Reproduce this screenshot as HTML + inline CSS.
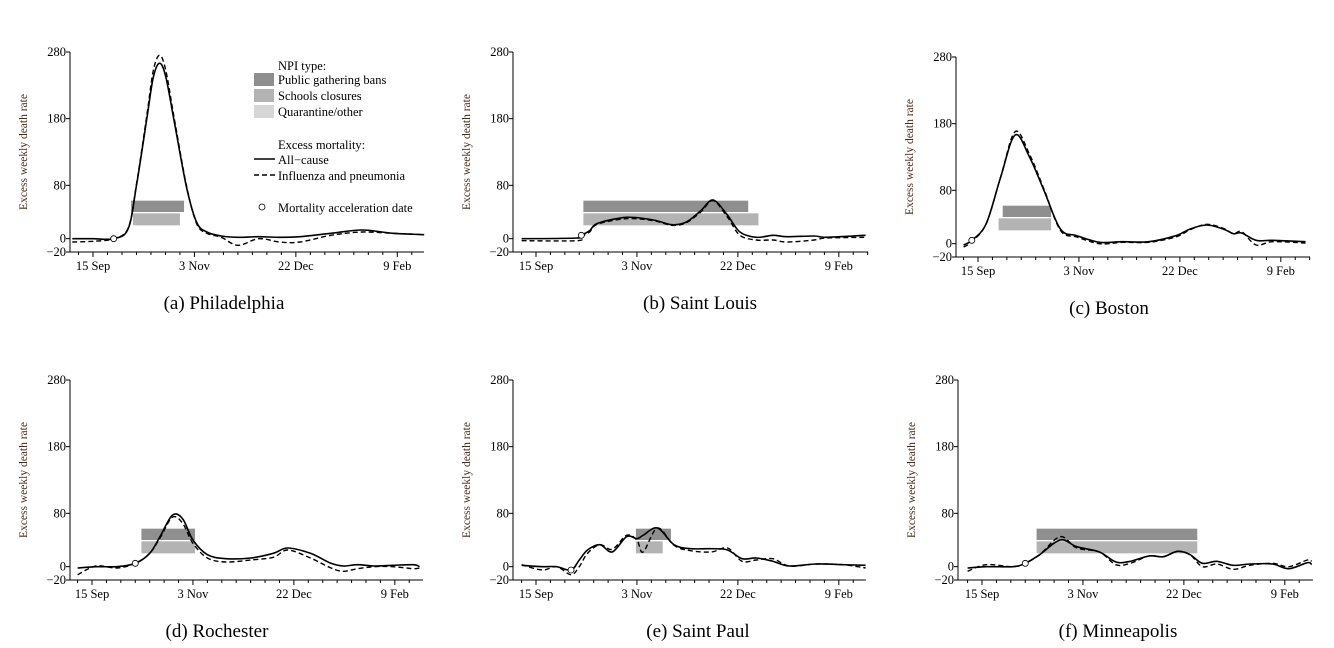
<!DOCTYPE html>
<html><head><meta charset="utf-8"><style>
body{margin:0;background:#fff}
svg{display:block;font-family:"Liberation Serif",serif}
</style></head><body>
<svg id="chart" width="1334" height="648" viewBox="0 0 1334 648" xmlns="http://www.w3.org/2000/svg"></svg>
<script>
// Days since 15 Sep 1918, values: excess weekly death rate
const phlDays=[-10,0,10,17,21,26,29,32,35,39,45,50,55,62,70,80,90,100,115,130,145,160];
const phlAll=[0,0,0,15,80,180,240,263,245,180,80,25,10,4,2,3,2,3,8,13,8,6];
const phlFlu=[-5,-4,0,16,82,185,250,275,255,185,82,23,8,2,-10,0,-5,-5,5,10,8,6];
const stlDays=[-7,20,22,26,30,44,57,66,73,80,86,93,99,107,115,122,135,141,160];
const stlAll=[0,1,5,12,23,32,28,21,25,42,58,35,10,2,5,3,4,2,5];
const stlFlu=[-3,-3,3,10,22,30,27,20,24,40,57,32,5,-2,-2,-5,-2,1,2];
const bosDays=[-7,-3,4,11,18,25,32,40,48,59,70,83,96,103,111,119,124,128,135,143,159];
const bosAll=[-2,5,30,100,163,130,80,22,12,2,3,3,12,22,28,22,15,16,5,5,3];
const bosFlu=[-5,3,30,100,168,134,82,20,10,0,2,2,10,21,29,23,15,18,-2,3,1];
const rocDays=[-7,2,12,21,28,33,39,44,49,56,65,77,88,95,106,116,122,129,137,146,156,159];
const rocAll=[-2,0,0,5,20,45,77,72,40,18,12,13,20,28,20,5,1,3,1,2,3,0];
const rocFlu=[-12,1,-2,5,20,43,74,65,35,13,7,10,14,25,13,-2,-7,-3,0,0,-3,-2];
const stpDays=[-7,3,10,17,21,25,31,37,44,49,52,59,67,75,85,93,100,107,115,123,136,149,160];
const stpAll=[2,0,0,-5,10,25,33,22,45,42,47,58,33,27,27,25,12,13,8,1,4,3,2];
const stpFlu=[3,-5,0,-12,0,20,33,26,47,40,22,58,32,24,22,28,8,10,12,1,4,3,-2];
const minDays=[-7,2,15,21,28,38,46,57,65,72,81,88,95,101,107,114,122,130,141,149,158,160];
const minAll=[-2,0,0,5,18,40,30,22,7,8,16,15,23,18,5,8,2,4,4,-3,6,3];
const minFlu=[-7,3,0,5,18,45,28,22,3,5,16,15,23,18,0,4,-4,2,5,0,10,8];
// NPI bars: [start day, end day]
const phlBans=[18.4,44], phlSchools=[19.3,42];
const stlBans=[23,103], stlSchools=[23,108];
const bosBans=[12,35.5], bosSchools=[10,35.5];
const rocBans=[24,50], rocSchools=[24,50];
const stpBans=[48.5,65.5], stpSchools=[48.5,61.5];
const minBans=[26.5,104.5], minSchools=[26.5,104.5];
const accel=[[10,0],[22,5],[-3,5],[21,5],[17,-5],[21,5]];
const yTicks=[-20,0,80,180,280];
const xTickDays=[0,49,98,147];
const xTickLabels=["15 Sep","3 Nov","22 Dec","9 Feb"];

const panels=[
 {n:"philadelphia",cap:"(a) Philadelphia",cx:224,ax:70,x0:93,k:2.07,top:52,bot:252,end:424,d:phlDays,a:phlAll,f:phlFlu,b:phlBans,s:phlSchools,c:accel[0]},
 {n:"saint-louis",cap:"(b) Saint Louis",cx:700,ax:513,x0:536,k:2.06,top:52,bot:252,end:868,d:stlDays,a:stlAll,f:stlFlu,b:stlBans,s:stlSchools,c:accel[1]},
 {n:"boston",cap:"(c) Boston",cx:1109,ax:956,x0:978,k:2.06,top:57,bot:257,end:1310,d:bosDays,a:bosAll,f:bosFlu,b:bosBans,s:bosSchools,c:accel[2]},
 {n:"rochester",cap:"(d) Rochester",cx:217,ax:70,x0:92,k:2.06,top:380,bot:580,end:423,d:rocDays,a:rocAll,f:rocFlu,b:rocBans,s:rocSchools,c:accel[3]},
 {n:"saint-paul",cap:"(e) Saint Paul",cx:698,ax:513,x0:536,k:2.06,top:380,bot:580,end:866,d:stpDays,a:stpAll,f:stpFlu,b:stpBans,s:stpSchools,c:accel[4]},
 {n:"minneapolis",cap:"(f) Minneapolis",cx:1118,ax:958,x0:982,k:2.06,top:380,bot:580,end:1313,d:minDays,a:minAll,f:minFlu,b:minBans,s:minSchools,c:accel[5]}
];
const NS="http://www.w3.org/2000/svg";
const svg=document.getElementById('chart');
function mk(tag,attrs,parent,text){const e=document.createElementNS(NS,tag);for(const k in attrs)e.setAttribute(k,attrs[k]);if(text!==undefined)e.textContent=text;(parent||svg).appendChild(e);return e;}
function smooth(pts){let d="M"+pts[0][0].toFixed(1)+","+pts[0][1].toFixed(1);
 for(let i=0;i<pts.length-1;i++){const p0=pts[Math.max(i-1,0)],p1=pts[i],p2=pts[i+1],p3=pts[Math.min(i+2,pts.length-1)];
 const c1=[p1[0]+(p2[0]-p0[0])/6,p1[1]+(p2[1]-p0[1])/6],c2=[p2[0]-(p3[0]-p1[0])/6,p2[1]-(p3[1]-p1[1])/6];
 d+="C"+c1.map(v=>v.toFixed(1))+" "+c2.map(v=>v.toFixed(1))+" "+p2[0].toFixed(1)+","+p2[1].toFixed(1);}
 return d;}
panels.forEach(P=>{
 const X=d=>P.x0+d*P.k, Y=v=>P.bot-(v+20)*(P.bot-P.top)/300;
 const g=mk('g',{});
 
 
 const rb=mk('rect',{x:X(P.b[0]),y:Y(57),width:X(P.b[1])-X(P.b[0]),height:Y(40)-Y(57),fill:'#8f8f8f'},g);
 
 
 const rs=mk('rect',{x:X(P.s[0]),y:Y(38),width:X(P.s[1])-X(P.s[0]),height:Y(20)-Y(38),fill:'#b3b3b3'},g);
 
 
 const ya=mk('line',{x1:P.ax,y1:P.top,x2:P.ax,y2:P.bot,stroke:'#000','stroke-width':1},g);
 
 
 const xa=mk('line',{x1:P.ax,y1:P.bot,x2:P.end,y2:P.bot,stroke:'#000','stroke-width':1},g);
 
 
 yTicks.forEach(t=>{mk('line',{x1:P.ax-4,y1:Y(t),x2:P.ax,y2:Y(t),stroke:'#000'},g);
  const tl=mk('text',{x:P.ax-4,y:Y(t)+4,'text-anchor':'end','font-size':12.5},g,t<0?'\u221220':String(t));
  
  });
 for(let d=-7;X(d)<P.end;d+=7){const major=xTickDays.includes(d);mk('line',{x1:X(d),y1:P.bot,x2:X(d),y2:P.bot+(major?5:3),stroke:'#000'},g);}
 xTickDays.forEach((d,i)=>{const t=mk('text',{x:X(d),y:P.bot+18,'text-anchor':'middle','font-size':12.5},g,xTickLabels[i]);
  
  });
 const yl=mk('text',{x:0,y:0,transform:`translate(${P.ax-43},${(P.top+P.bot)/2}) rotate(-90)`,'text-anchor':'middle','font-size':11.5,fill:'#4a2a1a'},g,'Excess weekly death rate');
 
 
 const pf=mk('path',{d:smooth(P.d.map((d,i)=>[X(d),Y(P.f[i])])),fill:'none',stroke:'#000','stroke-width':1.4,'stroke-dasharray':'5,3'},g);
 
 
 const pa=mk('path',{d:smooth(P.d.map((d,i)=>[X(d),Y(P.a[i])])),fill:'none',stroke:'#000','stroke-width':1.6},g);
 
 
 const ci=mk('circle',{cx:X(P.c[0]),cy:Y(P.c[1]),r:3,fill:'#fff',stroke:'#000','stroke-width':0.8},g);
 
 
 const cap=mk('text',{x:P.cx,y:P.bot+57,'text-anchor':'middle','font-size':19},g,P.cap);
 
 
});
const L=mk('g',{});


mk('text',{x:278,y:70,'font-size':12.5},L,'NPI type:');
[['#8f8f8f','Public gathering bans',73],['#b3b3b3','Schools closures',89],['#d6d6d6','Quarantine/other',105]].forEach(r=>{
 mk('rect',{x:254,y:r[2],width:20,height:13,fill:r[0]},L);
 const t=mk('text',{x:278,y:r[2]+11,'font-size':12.5},L,r[1]);
 
 });
mk('text',{x:278,y:149,'font-size':12.5},L,'Excess mortality:');
mk('line',{x1:254,y1:159,x2:275,y2:159,stroke:'#000','stroke-width':1.6},L);
mk('text',{x:278,y:164,'font-size':12.5},L,'All\u2212cause');
mk('line',{x1:254,y1:175,x2:275,y2:175,stroke:'#000','stroke-width':1.4,'stroke-dasharray':'5,3'},L);
mk('text',{x:278,y:180,'font-size':12.5},L,'Influenza and pneumonia');
mk('circle',{cx:262,cy:207,r:3,fill:'#fff',stroke:'#000','stroke-width':0.8},L);
mk('text',{x:278,y:212,'font-size':12.5},L,'Mortality acceleration date');
</script>
</body></html>
